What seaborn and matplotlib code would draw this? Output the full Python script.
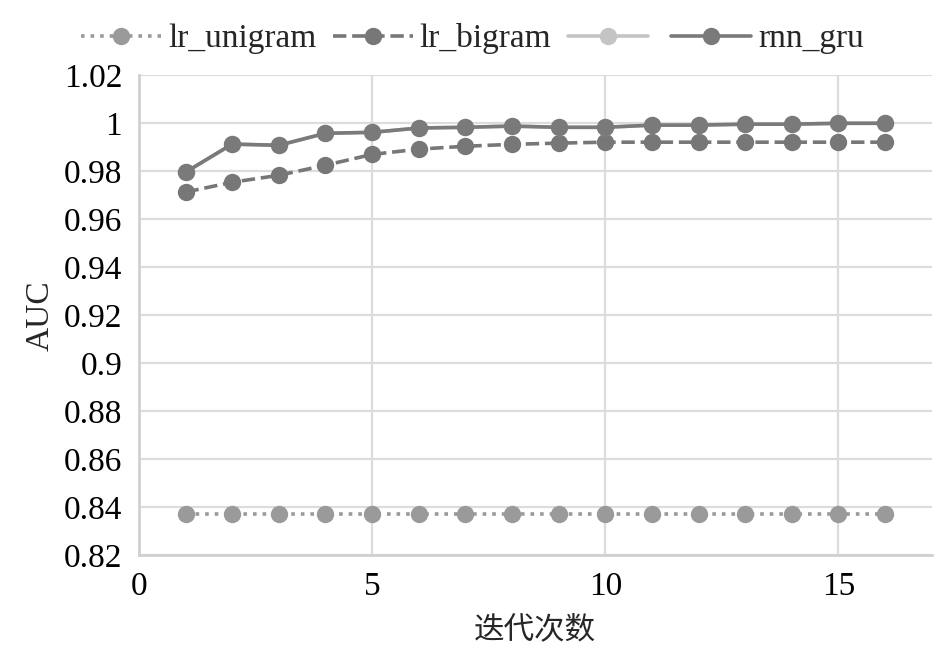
import numpy as np
import pandas as pd
import seaborn as sns
import matplotlib.pyplot as plt
from matplotlib.ticker import FuncFormatter, MultipleLocator
from matplotlib.lines import Line2D

# values
epochs = list(range(1, 17))
lr_unigram = [0.837] * 16
lr_bigram = [0.9713, 0.9754, 0.9783, 0.9825, 0.9870, 0.9892, 0.9904, 0.9912,
             0.9917, 0.9921, 0.9921, 0.9921, 0.9921, 0.9921, 0.9921, 0.9921]
rnn_lstm = [0.9796, 0.9913, 0.9908, 0.9958, 0.9962, 0.9980, 0.9983, 0.9988,
            0.9983, 0.9983, 0.9992, 0.9992, 0.9996, 0.9996, 0.9999, 0.9999]
rnn_gru = [0.9796, 0.9913, 0.9908, 0.9958, 0.9962, 0.9980, 0.9983, 0.9988,
           0.9983, 0.9983, 0.9992, 0.9992, 0.9996, 0.9996, 1.0000, 1.0000]
legend_labels = ["lr_unigram", "lr_bigram", "", "rnn_gru"]

sns.set_style("white")
plt.rcParams['font.family'] = ['Liberation Serif', 'DejaVu Serif', 'Noto Sans CJK SC']

fig = plt.figure(figsize=(9.45, 6.54), dpi=100)
ax = fig.add_axes([0.147, 0.151, 0.839, 0.734])

series = [
    (lr_unigram, "#9a9a9a", ":"),
    (lr_bigram, "#777777", "--"),
    (rnn_lstm, "#c4c4c4", "-"),
    (rnn_gru, "#7a7a7a", "-"),
]
handles = []
for values, color, ls in series:
    df = pd.DataFrame({"epoch": epochs, "auc": values})
    sns.lineplot(data=df, x="epoch", y="auc", ax=ax, color=color, linestyle=ls,
                 linewidth=2.6, marker="o", markersize=12.5, markeredgewidth=0)
    handles.append(Line2D([], [], color=color, linestyle=ls, linewidth=2.6,
                          marker="o", markersize=12.5, markeredgewidth=0))

ax.set_xlim(0, 17)
ax.set_ylim(0.82, 1.02)
ax.xaxis.set_major_locator(MultipleLocator(5))
ax.yaxis.set_major_locator(MultipleLocator(0.02))
ax.yaxis.set_major_formatter(FuncFormatter(lambda v, p: "%g" % round(v, 2)))

ax.grid(True, color="#dcdcdc", linewidth=1.6)
for side in ["top", "right"]:
    ax.spines[side].set_visible(False)
for side in ["left", "bottom"]:
    ax.spines[side].set_color("#d0d0d0")
    ax.spines[side].set_linewidth(2)
ax.tick_params(axis="both", length=0, labelsize=24, pad=12, colors="black")

ax.set_xlabel("迭代次数", fontsize=22, labelpad=10)
ax.set_ylabel("AUC", fontsize=24, labelpad=6)

fig.legend(handles, legend_labels, loc="upper center", bbox_to_anchor=(0.5, 1.01),
           ncol=4, frameon=False, fontsize=24, handlelength=2.4,
           handletextpad=0.2, columnspacing=0.5)

fig.savefig("out.png", dpi=100)
